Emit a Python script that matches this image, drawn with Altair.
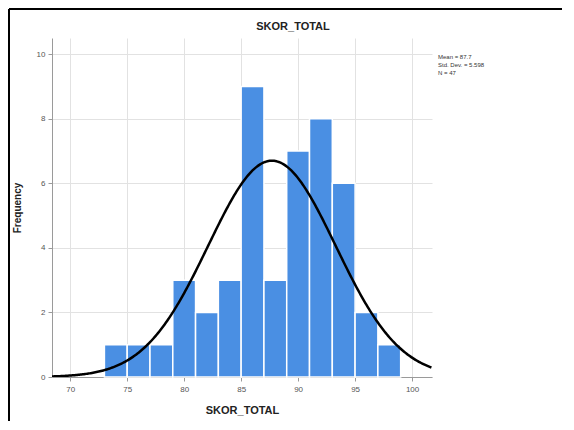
import altair as alt
import pandas as pd

# Histogram bins (lower edge, upper edge) and frequencies
bin_start = [73, 75, 77, 79, 81, 83, 85, 87, 89, 91, 93, 95, 97]
bin_end = [75, 77, 79, 81, 83, 85, 87, 89, 91, 93, 95, 97, 99]
counts = [1, 1, 1, 3, 2, 3, 9, 3, 7, 8, 6, 2, 1]

# Summary statistics shown in the legend
mean_val = 87.7
sd_val = 5.598
n_val = 47
bin_width = 2

x_ticks = [70, 75, 80, 85, 90, 95, 100]
y_ticks = [0, 2, 4, 6, 8, 10]
stats_lines = ["Mean = 87.7", "Std. Dev. = 5.598", "N = 47"]
chart_title = "SKOR_TOTAL"

bars_df = pd.DataFrame({"start": bin_start, "end": bin_end, "count": counts})
stats_df = pd.DataFrame({"label": ["\n".join(stats_lines)]})
title_df = pd.DataFrame({"label": [chart_title]})

W, H = 380, 339
xscale = alt.Scale(domain=[68.4, 101.75], nice=False, zero=False)
yscale = alt.Scale(domain=[0, 10.5], nice=False)

x_axis = alt.Axis(values=x_ticks, title="SKOR_TOTAL", grid=True, gridColor="#e2e2e2",
                  domainColor="#9a9a9a", tickColor="#9a9a9a", tickSize=4,
                  labelColor="#555555", labelFontSize=8, labelPadding=4,
                  titleFontSize=11, titleFontWeight="bold", titleColor="#222222",
                  titlePadding=11, titleFont="Liberation Sans")
y_axis = alt.Axis(values=y_ticks, title="Frequency", grid=True, gridColor="#e2e2e2",
                  domainColor="#9a9a9a", tickColor="#9a9a9a", tickSize=4,
                  labelColor="#555555", labelFontSize=8, labelPadding=3,
                  titleFontSize=10, titleFontWeight="bold", titleColor="#222222",
                  titlePadding=14, titleFont="Liberation Sans")

bars = alt.Chart(bars_df).mark_bar(color="#4a8fe3", stroke="white", strokeWidth=1.5).encode(
    x=alt.X("start:Q", scale=xscale, axis=x_axis),
    x2="end:Q",
    y=alt.Y("count:Q", scale=yscale, axis=y_axis),
    y2=alt.datum(0),
)

curve = alt.Chart(alt.sequence(68.4, 101.8, 0.1, as_="v")).transform_calculate(
    dens=f"{n_val * bin_width} * exp(-0.5 * pow((datum.v - {mean_val}) / {sd_val}, 2)) / ({sd_val} * sqrt(2 * PI))"
).mark_line(color="black", strokeWidth=2.5, clip=True).encode(
    x=alt.X("v:Q", scale=xscale),
    y=alt.Y("dens:Q", scale=yscale),
)

stats = alt.Chart(stats_df).mark_text(align="left", baseline="top", fontSize=6, lineHeight=8,
                                      lineBreak="\n", color="#333333",
                                      font="Liberation Sans").encode(
    x=alt.value(W + 6),
    y=alt.value(16),
    text="label:N",
)

title = alt.Chart(title_df).mark_text(align="center", baseline="middle", fontSize=11,
                                      fontWeight="bold", color="#222222",
                                      font="Liberation Sans").encode(
    x=alt.value(241), y=alt.value(-11), text="label:N"
)

frame_left = alt.Chart(pd.DataFrame({"a": [0]})).mark_rule(color="black", strokeWidth=2).encode(
    x=alt.value(-43), y=alt.value(-29), y2=alt.value(H + 50)
)
frame_top = alt.Chart(pd.DataFrame({"a": [0]})).mark_rule(color="black", strokeWidth=2).encode(
    x=alt.value(-43), x2=alt.value(W + 140), y=alt.value(-29)
)

chart = alt.layer(bars, curve, stats, title, frame_left, frame_top).properties(
    width=W, height=H,
    autosize=alt.AutoSizeParams(type="none"),
    padding={"left": 44, "top": 30, "right": 130, "bottom": 44},
).configure_view(stroke=None)

chart.save("out.html", embed_options={"renderer": "svg", "actions": False})
